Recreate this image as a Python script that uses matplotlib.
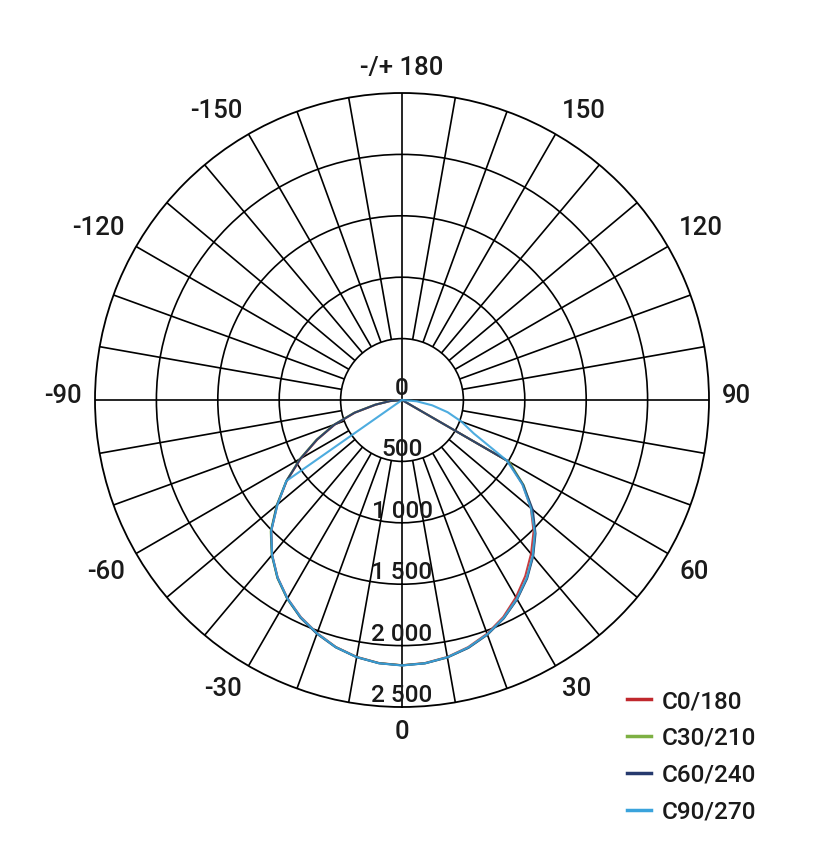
import numpy as np
import matplotlib.pyplot as plt

# gamma angles (deg) and intensities (cd/klm)
gamma = [0, 5, 10, 15, 20, 25, 30, 35, 40, 45, 50, 55, 60, 65, 70, 75, 80, 85, 90]

# right half (C0, C30, C60, C90)
c0 = [2160, 2150, 2125, 2083, 2025, 1950, 1855, 1750, 1635, 1515, 1370, 1200, 1000, 0, 0, 0, 0, 0, 0]
c30 = [2160, 2152, 2128, 2088, 2032, 1960, 1872, 1772, 1658, 1532, 1380, 1210, 1010, 0, 0, 0, 0, 0, 0]
c60 = [2162, 2153, 2129, 2090, 2034, 1962, 1875, 1776, 1662, 1538, 1390, 1205, 995, 0, 0, 0, 0, 0, 0]
c90 = [2162, 2152, 2127, 2086, 2030, 1958, 1870, 1770, 1655, 1530, 1370, 1195, 985, 645, 515, 385, 250, 120, 0]

# left half (C180, C210, C240, C270)
c180 = [2160, 2150, 2124, 2082, 2020, 1950, 1865, 1765, 1645, 1505, 1325, 1145, 950, 760, 580, 395, 215, 95, 0]
c210 = [2160, 2151, 2126, 2084, 2024, 1955, 1870, 1770, 1650, 1512, 1332, 1150, 960, 770, 590, 405, 225, 100, 0]
c240 = [2161, 2152, 2127, 2085, 2026, 1956, 1868, 1768, 1648, 1508, 1328, 1148, 955, 765, 585, 400, 220, 98, 0]
c270 = [2162, 2152, 2126, 2084, 2022, 1952, 1866, 1766, 1646, 1506, 1322, 1150, 0, 0, 0, 0, 0, 0, 0]

names = ["C0/180", "C30/210", "C60/240", "C90/270"]
colors = ["#c0282d", "#7db043", "#263a6e", "#3aa3dc"]

ring_values = [0, 500, 1000, 1500, 2000, 2500]
ring_labels = ["0", "500", "1 000", "1 500", "2 000", "2 500"]

angle_ticks = [0, 30, 60, 90, 120, 150, 180, -150, -120, -90, -60, -30]
angle_labels = ["0", "30", "60", "90", "120", "150", "-/+ 180", "-150", "-120", "-90", "-60", "-30"]

plt.rcParams['font.family'] = ['Roboto', 'DejaVu Sans']
plt.rcParams['font.weight'] = 'medium'
txt_col = '#1a1a1a'

fig = plt.figure(figsize=(8.34, 8.52), dpi=100)
ax = fig.add_axes([95/834, 145/852, 614/834, 614/852], projection='polar')
ax.set_theta_zero_location('S')
ax.set_theta_direction(1)
ax.set_ylim(0, 2500)

# grid: rings + spokes
ax.set_xticks([])
ax.set_yticks([500, 1000, 1500, 2000])
ax.set_yticklabels([])
ax.tick_params(length=0)
ax.xaxis.grid(False)
ax.yaxis.grid(True, color='black', lw=1.2)
ax.spines['polar'].set_color('black')
ax.spines['polar'].set_linewidth(1.3)

spokes = np.arange(0, 360, 10)
minor = np.deg2rad([a for a in spokes if a % 90 != 0])
major = np.deg2rad([a for a in spokes if a % 90 == 0])
ax.vlines(minor, 500, 2500, color='black', lw=1.2, zorder=1)
ax.vlines(major, 0, 2500, color='black', lw=1.2, zorder=1)

# curves
g = np.array(gamma)
theta = np.deg2rad(np.concatenate([-g[::-1], g[1:]]))
pairs = [(c180, c0), (c210, c30), (c240, c60), (c270, c90)]
for (left, right), name, col in zip(pairs, names, colors):
    r = np.concatenate([np.array(left)[::-1], np.array(right)[1:]])
    ax.plot(theta, r, color=col, lw=1.5, label=name, zorder=3, alpha=0.9)

# ring labels along the 0 axis
for val, lab in zip(ring_values, ring_labels):
    ax.annotate(lab, xy=(0, val), xytext=(0, 0), textcoords='offset pixels',
                ha='center', va='bottom', fontsize=17.5, color=txt_col, zorder=4)

# angle labels outside the circle
for a, lab in zip(angle_ticks, angle_labels):
    s, c = np.sin(np.deg2rad(a)), -np.cos(np.deg2rad(a))
    ha = 'left' if s > 0.1 else ('right' if s < -0.1 else 'center')
    va = 'bottom' if c > 0.1 else ('top' if c < -0.1 else 'center')
    ax.annotate(lab, xy=(np.deg2rad(a), 2500), xytext=(13*s, 13*c + (4 if va == 'center' else 0)),
                textcoords='offset pixels', ha=ha, va=va, fontsize=18.5,
                color=txt_col, annotation_clip=False)

leg = fig.legend(loc='upper left', bbox_to_anchor=(627/834, 1 - 690/852),
                 frameon=False, fontsize=17.5, handlelength=1.0, handletextpad=0.45,
                 labelspacing=0.57, borderpad=0, borderaxespad=0)
for t in leg.get_texts():
    t.set_color(txt_col)
for h in leg.get_lines():
    h.set_linewidth(2.5)
    h.set_alpha(1)

fig.savefig("out.png", dpi=100, facecolor='white')
